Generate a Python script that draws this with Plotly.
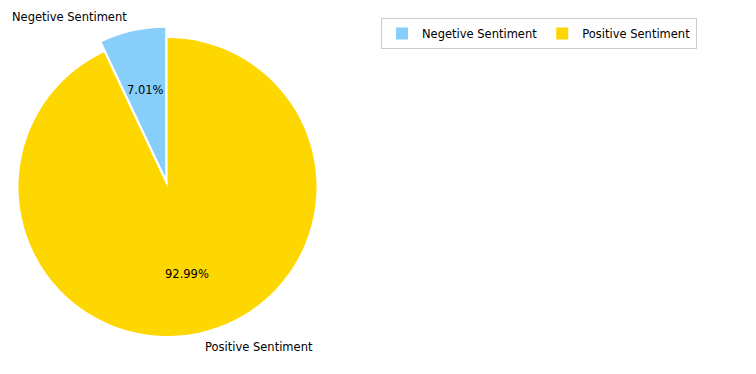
import math
import plotly.graph_objects as go

labels = ["Negetive Sentiment", "Positive Sentiment"]
values = [7.01, 92.99]
colors = ["#87CEFA", "#FFD700"]
explode = [0.07, 0.0]

OFF = 8  # default page body margin
W, H = 756 - 2 * OFF, 374 - 2 * OFF
CX, CY, R = 167.5 - OFF, 187.0 - OFF, 149.0
FS = 11.5
maxpull = max(explode)
half = R * (1 + maxpull)
total = sum(values)

fig = go.Figure(go.Pie(
    labels=labels, values=values, sort=False, direction="clockwise",
    rotation=-360.0 * values[0] / total, pull=explode, textinfo="none",
    hoverinfo="label+percent",
    marker=dict(colors=colors, line=dict(width=0)),
    domain=dict(x=[max(0.0, (CX - half) / W), (CX + half) / W],
                y=[(H - CY - half) / H, (H - CY + half) / H]),
))

def to_paper(px, py):
    return px / W, 1 - py / H

start = 90.0
annotations = []
for lab, v, ex in zip(labels, values, explode):
    span = 360.0 * v / total
    mid = math.radians(start + span / 2)
    start += span
    c, s = math.cos(mid), math.sin(mid)
    d = R * 0.6 + R * ex
    x, y = to_paper(CX + d * c, CY - d * s)
    annotations.append(dict(x=x, y=y, xref="paper", yref="paper", showarrow=False,
                            text=f"{100 * v / total:.2f}%", xanchor="center", yanchor="middle",
                            font=dict(size=FS, color="#000000")))
    d = R * 1.1 + R * ex
    x, y = to_paper(CX + d * c, CY - d * s)
    annotations.append(dict(x=x, y=y, xref="paper", yref="paper", showarrow=False,
                            text=lab, xanchor="left" if c > 0 else "right", yanchor="middle",
                            font=dict(size=FS, color="#000000")))

fig.update_layout(
    width=W, height=H, margin=dict(l=0, r=0, t=0, b=0),
    paper_bgcolor="white", plot_bgcolor="white",
    font=dict(family="DejaVu Sans", size=FS, color="#000000"),
    annotations=annotations,
    showlegend=True,
    legend=dict(orientation="h", x=(381 - OFF) / W, y=1 - (18 - OFF) / H,
                xanchor="left", yanchor="top",
                bordercolor="#cccccc", borderwidth=1, bgcolor="white",
                font=dict(size=FS), itemwidth=30, traceorder="normal"),
)

fig.write_html("out.html")
